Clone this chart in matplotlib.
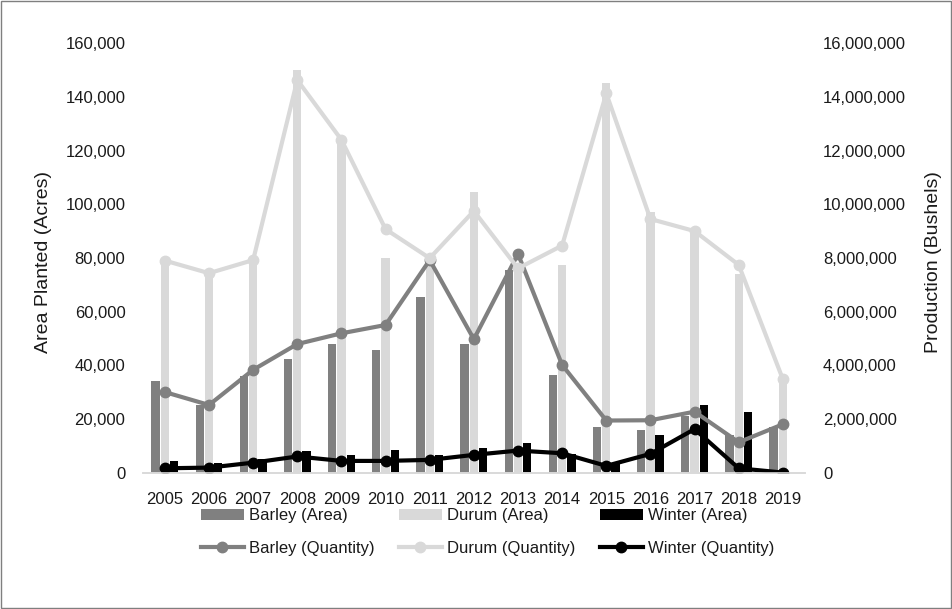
import matplotlib.pyplot as plt
import matplotlib.ticker as mticker
from matplotlib.patches import Rectangle
import numpy as np

plt.rcParams['font.family'] = ['Liberation Sans', 'DejaVu Sans']

years = ['2005', '2006', '2007', '2008', '2009', '2010', '2011', '2012',
         '2013', '2014', '2015', '2016', '2017', '2018', '2019']

# area planted (acres)
barley_area = [34000, 25000, 36000, 42500, 48000, 45500, 65500, 48000,
               75500, 36500, 17000, 16000, 21000, 14000, 17000]
durum_area = [79000, 74500, 79000, 150000, 124000, 80000, 78000, 104500,
              76000, 77500, 145000, 97000, 91000, 74000, 35000]
winter_area = [4500, 3500, 5000, 8000, 6500, 8500, 6500, 9000,
               11000, 7000, 3500, 14000, 25000, 22500, 0]

# production (bushels)
barley_qty = [3000000, 2520000, 3830000, 4790000, 5190000, 5500000, 7920000, 4970000,
              8150000, 4010000, 1940000, 1950000, 2270000, 1130000, 1800000]
durum_qty = [7900000, 7430000, 7920000, 14630000, 12400000, 9070000, 7990000, 9750000,
             7610000, 8460000, 14130000, 9450000, 9000000, 7740000, 3480000]
winter_qty = [160000, 185000, 370000, 600000, 435000, 435000, 473000, 660000,
              820000, 720000, 250000, 697000, 1620000, 160000, 0]

c_barley = '#808080'
c_durum = '#d9d9d9'
c_winter = '#000000'
txt = '#1a1a1a'

fig = plt.figure(figsize=(9.52, 6.09), dpi=100)
ax = fig.add_axes([0.150, 0.224, 0.6955, 0.705])
ax2 = ax.twinx()

x = np.arange(len(years))
w = 0.19
b1 = ax.bar(x - 0.21, barley_area, w, color=c_barley, label='Barley (Area)')
b2 = ax.bar(x, durum_area, w, color=c_durum, label='Durum (Area)')
b3 = ax.bar(x + 0.21, winter_area, w, color=c_winter, label='Winter (Area)')

lkw = dict(linewidth=3, marker='o', markersize=7.5)
l1, = ax2.plot(x, barley_qty, color=c_barley, label='Barley (Quantity)', **lkw)
l2, = ax2.plot(x, durum_qty, color=c_durum, label='Durum (Quantity)', **lkw)
l3, = ax2.plot(x, winter_qty, color=c_winter, label='Winter (Quantity)', **lkw)

ax.set_xlim(-0.5, len(years) - 0.5)
ax.set_ylim(0, 160000)
ax2.set_ylim(0, 16000000)
ax.set_yticks(np.arange(0, 160001, 20000))
ax2.set_yticks(np.arange(0, 16000001, 2000000))
fmt = mticker.FuncFormatter(lambda v, p: f'{int(v):,}')
ax.yaxis.set_major_formatter(fmt)
ax2.yaxis.set_major_formatter(fmt)
ax.set_xticks(x)
ax.set_xticklabels(years)

for a in (ax, ax2):
    for s in ('top', 'left', 'right'):
        a.spines[s].set_visible(False)
    a.spines['bottom'].set_color('#d9d9d9')
    a.spines['bottom'].set_linewidth(1.2)
    a.tick_params(length=0, labelsize=12, colors=txt)
ax.tick_params(axis='y', pad=12.5)
ax2.tick_params(axis='y', pad=13)
ax.tick_params(axis='x', pad=14)

ax.set_ylabel('Area Planted (Acres)', fontsize=14, color=txt)
ax2.set_ylabel('Production (Bushels)', fontsize=14, color=txt)
ax.yaxis.set_label_coords(-0.1375, 0.49)
ax2.yaxis.set_label_coords(1.181, 0.49)

handles = [b1, l1, b2, l2, b3, l3]
labels = [h.get_label() for h in handles]
leg = fig.legend(handles, labels, ncol=3, loc='upper center', bbox_to_anchor=(0.512, 0.19),
                 frameon=False, fontsize=12, handlelength=2.6, columnspacing=1.45,
                 handletextpad=0.3, labelspacing=1.05)
for t in leg.get_texts():
    t.set_color(txt)

fig.patches.append(Rectangle((0.001, 0.001), 0.998, 0.998, transform=fig.transFigure,
                             fill=False, edgecolor='#7f7f7f', linewidth=1))

fig.savefig('out.png', dpi=100)
